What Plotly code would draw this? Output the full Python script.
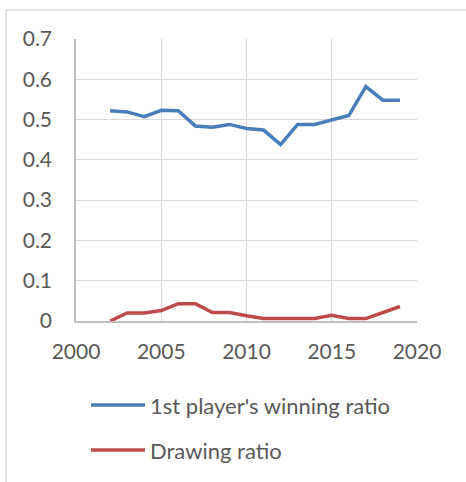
import plotly.graph_objects as go

years = list(range(2002, 2020))
win_ratio = [0.522, 0.519, 0.507, 0.523, 0.522, 0.484, 0.481, 0.488, 0.478, 0.474,
             0.438, 0.488, 0.488, 0.499, 0.510, 0.582, 0.548, 0.548]
draw_ratio = [0.0, 0.020, 0.020, 0.026, 0.043, 0.043, 0.021, 0.021, 0.013, 0.006,
              0.006, 0.006, 0.006, 0.014, 0.006, 0.006, 0.021, 0.036]
series_names = ["1st player's winning ratio", "Drawing ratio"]
colors = ["#4A7EBB", "#BE4B48"]
x_ticks = [2000, 2005, 2010, 2015, 2020]
y_ticks = [0, 0.1, 0.2, 0.3, 0.4, 0.5, 0.6, 0.7]
y_tick_text = ["0", "0.1", "0.2", "0.3", "0.4", "0.5", "0.6", "0.7"]

W, H = 466, 482
L, R, T, B = 76, 417, 39, 321
pw, ph = R - L, B - T

def px(x):
    return (x - L) / pw

def py(y):
    return (B - y) / ph

FONT = "Lato"
TXT = "#595959"

fig = go.Figure()
for name, vals, c in zip(series_names, [win_ratio, draw_ratio], colors):
    fig.add_trace(go.Scatter(x=years, y=vals, mode="lines", name=name,
                             line=dict(color=c, width=3.5), showlegend=False))

shapes = [
    dict(type="rect", xref="paper", yref="paper", x0=px(6), x1=px(480), y0=py(10), y1=py(500),
         line=dict(color="#D9D9D9", width=1.5), fillcolor="rgba(0,0,0,0)", layer="below"),
]
annotations = []
for i, (name, c) in enumerate(zip(series_names, colors)):
    yy = [405, 450][i]
    shapes.append(dict(type="line", xref="paper", yref="paper", x0=px(91), x1=px(145),
                       y0=py(yy), y1=py(yy), line=dict(color=c, width=3.5)))
    annotations.append(dict(xref="paper", yref="paper", x=px(148), y=py(yy), text=name,
                            showarrow=False, xanchor="left", yanchor="middle",
                            font=dict(family=FONT, size=22, color=TXT)))

fig.update_layout(
    width=W, height=H,
    margin=dict(l=L, r=W - R, t=T, b=H - B, pad=0),
    paper_bgcolor="white", plot_bgcolor="white",
    font=dict(family=FONT, size=21, color=TXT),
    shapes=shapes, annotations=annotations,
    xaxis=dict(range=[2000, 2020], tickvals=x_ticks, showgrid=True, gridcolor="#D9D9D9",
               gridwidth=1, showline=True, linecolor="#BFBFBF", linewidth=1.5,
               ticks="outside", ticklen=11, tickcolor="rgba(0,0,0,0)", zeroline=False,
               tickfont=dict(family=FONT, size=21, color=TXT)),
    yaxis=dict(range=[0, 0.7], tickvals=y_ticks, ticktext=y_tick_text, showgrid=True,
               gridcolor="#D9D9D9", gridwidth=1, showline=True, linecolor="#BFBFBF",
               linewidth=1.5, ticks="outside", ticklen=18, tickcolor="rgba(0,0,0,0)",
               zeroline=False, tickfont=dict(family=FONT, size=21, color=TXT)),
)

fig.write_html("out.html")
